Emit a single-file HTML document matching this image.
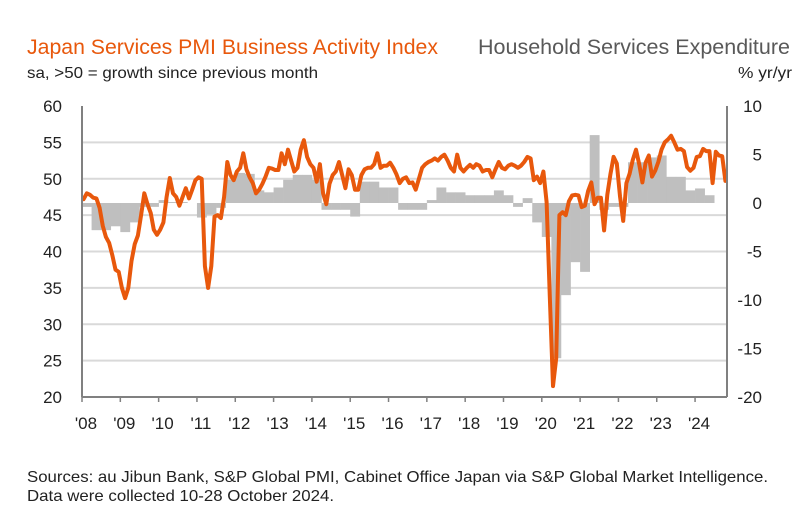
<!DOCTYPE html>
<html><head><meta charset="utf-8"><style>
body{margin:0;background:#fff;width:810px;height:521px;overflow:hidden;font-family:"Liberation Sans",sans-serif}
svg text{font-family:"Liberation Sans",sans-serif}
</style></head><body>
<svg id="chart" width="810" height="521">
<text x="27" y="54" font-size="21" textLength="411" lengthAdjust="spacingAndGlyphs" fill="#e8580c">Japan Services PMI Business Activity Index</text>
<text x="478" y="54" font-size="21" textLength="312" lengthAdjust="spacingAndGlyphs" fill="#595959">Household Services Expenditure</text>
<text x="27" y="78" font-size="16" textLength="291" lengthAdjust="spacingAndGlyphs" fill="#222">sa, &gt;50 = growth since previous month</text>
<text x="738" y="78" font-size="16" textLength="54" lengthAdjust="spacingAndGlyphs" fill="#222">% yr/yr</text>
<g id="grid"></g><g id="bars"></g><g id="line"></g><g id="axes"></g>
<text x="27" y="482" font-size="16" textLength="741" lengthAdjust="spacingAndGlyphs" fill="#222">Sources: au Jibun Bank, S&amp;P Global PMI, Cabinet Office Japan via S&amp;P Global Market Intelligence.</text>
<text x="27" y="501" font-size="16" textLength="307" lengthAdjust="spacingAndGlyphs" fill="#222">Data were collected 10-28 October 2024.</text>
</svg>
<script>
const pmi=[47.2,48,47.8,47.4,47.3,46,43.5,42,41.2,39.5,37.5,37.2,
35,33.6,35,38.7,41,42.2,45,48,46.5,45.3,43,42.3,
43,44,47.5,50.1,48,47.5,46.3,47.5,48.7,47.3,48.5,49.8,
50.2,50,38,35,38,44.8,45,44.6,47.5,52.3,50.5,49.8,
51,51.5,53.5,51.3,50.2,49.4,48,48.5,49.3,50.3,51.5,51.4,
51.2,51.2,53.5,52,54,52.5,51,51.5,54,55.3,53,52,
51.5,49.6,52,48,46.5,49.3,50.5,51,52.3,50.5,48.7,51.3,
50.5,48.5,48.5,50.5,51.3,51.5,51.5,52,53.5,51.5,51.8,51.8,
52.2,51.5,50.6,49.4,50,50.2,49.4,49.5,48.5,50,51.5,52,
52.3,52.5,52.8,52.5,53,53.3,52.5,51.5,51,53.3,51.5,51,
51.5,51.9,51.5,52,51.8,51,51.2,51.2,50.2,51.3,52.3,51.5,
51.3,51.8,52,51.8,51.5,51.8,52.3,53,52.8,49.8,50.3,49.4,
51,46.8,33.8,21.5,25.3,45,45.4,45,46.9,47.7,47.8,47.7,
46.1,46.3,48.3,49.5,46.5,47.4,47.4,42.9,47.8,50.7,53,52.1,
47.6,44.2,49.4,50.7,52.6,54,52,49.5,52.2,53.2,50.3,51.1,
52.3,54,55,55.4,55.9,55,54,54.1,53.8,51.6,51.1,51.5,
53,53.1,54.1,53.8,53.8,49.4,53.7,53.2,53.1,49.7];
const spend=[-0.4,-2.8,-2.8,-2.4,-3.0,-2.0,-0.4,-0.4,0.3,0.1,0.1,0.0,
-1.5,-1.2,-0.5,2.4,3.1,3.0,1.3,1.1,1.6,2.4,2.9,2.9,
2.4,-0.7,-0.7,-0.7,-1.4,2.2,2.2,1.6,1.6,-0.7,-0.7,-0.7,
0.3,1.6,1.1,1.1,0.8,0.8,0.8,1.3,0.8,-0.4,0.5,-2.0,
-3.5,-16,-9.5,-6.1,-7.1,7.0,-0.7,-0.4,-0.4,4.2,4.2,4.7,
4.9,2.7,2.7,1.3,1.5,0.8];
const leftTicks=[60,55,50,45,40,35,30,25,20];
const rightTicks=[10,5,0,-5,-10,-15,-20];
const yearLabels=["'08","'09","'10","'11","'12","'13","'14","'15","'16","'17","'18","'19","'20","'21","'22","'23","'24"];

const X0=82,X1=727,Y0=106,Y1=397,NM=202;
const xm=m=>X0+m*(X1-X0)/NM;
const yl=v=>Y0+(60-v)*(Y1-Y0)/40;
const yr=v=>Y0+(10-v)*(Y1-Y0)/30;
const NS="http://www.w3.org/2000/svg";
function mk(t,a,p){const e=document.createElementNS(NS,t);for(const k in a)e.setAttribute(k,a[k]);p.appendChild(e);return e;}
const grid=document.getElementById('grid'),bars=document.getElementById('bars'),line=document.getElementById('line'),axes=document.getElementById('axes');
leftTicks.forEach(v=>{
 if(v>20&&v<60){const g=mk('line',{x1:X0,x2:X1,y1:yl(v),y2:yl(v),stroke:'#d9d9d9','stroke-width':2},grid);
 
 }
 const t=mk('text',{x:62,y:yl(v)+6,'font-size':17,fill:'#222','text-anchor':'end'},axes);t.textContent=v;
 
 
});
rightTicks.forEach(v=>{
 const t=mk('text',{x:762,y:yr(v)+6,'font-size':17,fill:'#222','text-anchor':'end'},axes);t.textContent=v;
 
 
});
spend.forEach((v,i)=>{
 const xa=xm(i*3),xb=xm(i*3+3),y0=yr(0),y=yr(v);
 const r=mk('rect',{x:xa,y:Math.min(y0,y),width:xb-xa+0.3,height:Math.abs(y-y0),fill:'#bfbfbf'},bars);
 
 
});
const d=pmi.map((v,i)=>(i?'L':'M')+xm(i+0.5).toFixed(1)+' '+yl(v).toFixed(1)).join(' ');
const p=mk('path',{d:d,fill:'none',stroke:'#e8580c','stroke-width':4,'stroke-linejoin':'round','stroke-linecap':'round'},line);


const la=mk('line',{x1:X0,x2:X0,y1:Y0,y2:Y1,stroke:'#808080','stroke-width':2},axes);


const ra=mk('line',{x1:X1,x2:X1,y1:Y0,y2:Y1,stroke:'#808080','stroke-width':2},axes);


const ba=mk('line',{x1:X0,x2:X1,y1:Y1,y2:Y1,stroke:'#808080','stroke-width':2},axes);


yearLabels.forEach((s,i)=>{
 const x=xm(i*12);
 const tk=mk('line',{x1:x,x2:x,y1:Y1,y2:Y1+5,stroke:'#808080','stroke-width':1.5},axes);
 
 
 const t=mk('text',{x:x+4,y:Y1+32,'font-size':17,fill:'#222','text-anchor':'middle'},axes);t.textContent=s;
 
 
});
</script>
</body></html>
